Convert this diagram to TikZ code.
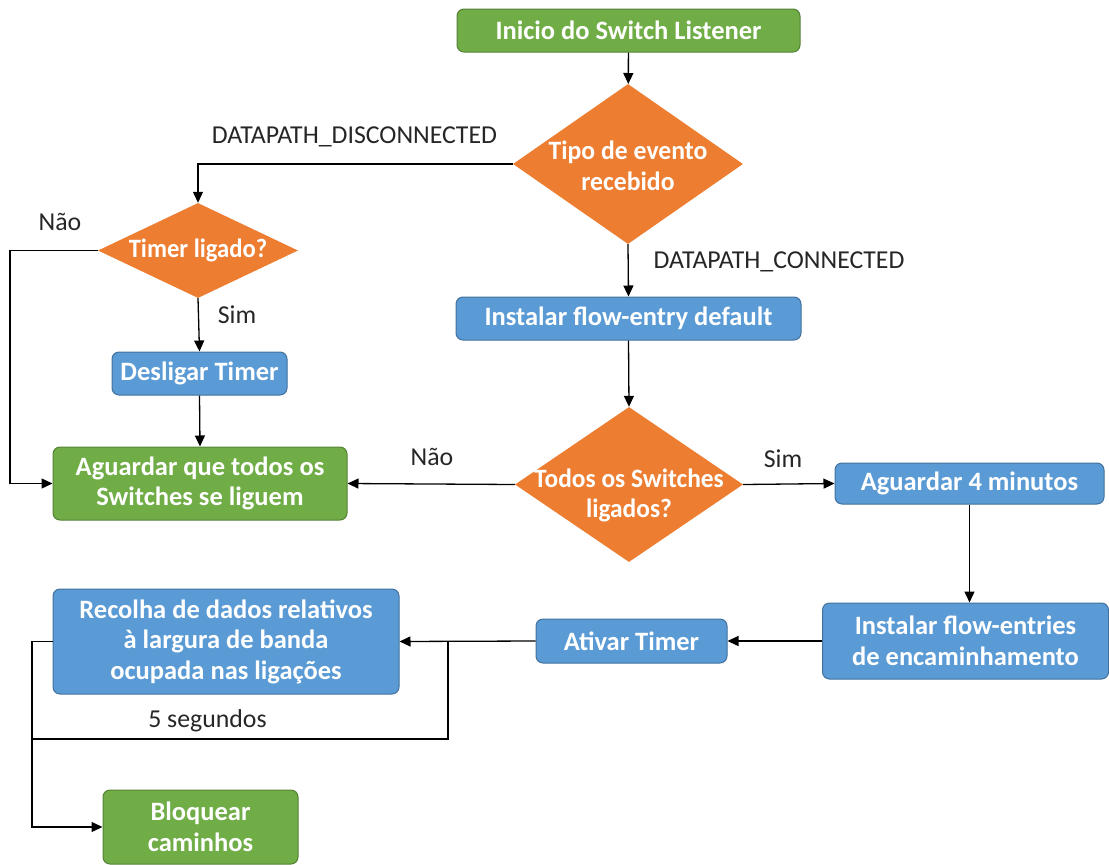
\documentclass[tikz,border=0pt]{standalone}
\usepackage{fontspec}
\setmainfont{Carlito}
\newfontfamily\condA[FakeStretch=0.97]{Carlito}
\newfontfamily\condB[FakeStretch=0.93]{Carlito}
\newfontfamily\condC[FakeStretch=0.96]{Carlito}
\usetikzlibrary{shapes.geometric,arrows.meta}
\definecolor{gfill}{HTML}{70AD47}
\definecolor{gdraw}{HTML}{548235}
\definecolor{bfill}{HTML}{5B9BD5}
\definecolor{bdraw}{HTML}{41719C}
\definecolor{ofill}{HTML}{ED7D31}
\definecolor{txt}{HTML}{262626}
\tikzset{
  box/.style={rectangle, rounded corners=7pt, line width=1pt, text=white,
    font=\fontsize{26.5}{30.5}\selectfont\bfseries, align=center, inner sep=0pt},
  gbox/.style={box, fill=gfill, draw=gdraw},
  bbox/.style={box, fill=bfill, draw=bdraw},
  dec/.style={diamond, fill=ofill, draw=none, inner sep=0pt},
  dectext/.style={text=white, inner sep=0pt,
    font=\condB\fontsize{26.5}{30.5}\selectfont\bfseries, align=center},
  dectextA/.style={dectext, font=\condA\fontsize{26.5}{30.5}\selectfont\bfseries},
  dectextC/.style={dectext, font=\condC\fontsize{26.5}{30.5}\selectfont\bfseries},
  lbl/.style={text=txt, font=\fontsize{25.8}{30}\selectfont, inner sep=0pt},
  conn/.style={line width=1.3pt, draw=black},
  arr/.style={conn, -{Triangle[length=11pt,width=10pt]}},
}
\begin{document}
\begin{tikzpicture}[x=1pt,y=-1pt]
\useasboundingbox (0,0) rectangle (1109,865);
% nodes
\node[gbox, minimum width=343, minimum height=43] (start) at (628.5,30.5) {Inicio do Switch Listener};
\node[dec, minimum width=230, minimum height=160,
  label={[dectextA, yshift=-2pt]center:Tipo de evento\\recebido}] (d1) at (628,164) {};
\node[dec, minimum width=200, minimum height=95,
  label={[dectext]center:Timer ligado?}] (d2) at (198,250.5) {};
\node[bbox, minimum width=175, minimum height=43] (desl) at (199.5,373.5) {Desligar Timer};
\node[gbox, minimum width=294, minimum height=73] (agu) at (200,483.5) {Aguardar que todos os\\Switches se liguem};
\node[bbox, minimum width=345, minimum height=43] (inst) at (628.5,318.5) {Instalar flow-entry default};
\node[dec, minimum width=228, minimum height=155,
  label={[dectextC, yshift=-11pt]center:Todos os Switches\\ligados?}] (d3) at (629,484.5) {};
\node[bbox, minimum width=269, minimum height=41] (agu4) at (969.5,483.5) {Aguardar 4 minutos};
\node[bbox, minimum width=286, minimum height=76] (instf) at (965.5,641) {Instalar flow-entries\\de encaminhamento};
\node[bbox, minimum width=191, minimum height=44] (ativ) at (631.5,641) {Ativar Timer};
\node[bbox, minimum width=346, minimum height=105] (rec) at (226,641.5) {Recolha de dados relativos\\à largura de banda\\ocupada nas ligações};
\node[gbox, minimum width=195, minimum height=74] (blk) at (200.5,827) {Bloquear\\caminhos};
% labels
\node[lbl] (ldis) at (354.5,137) {DATAPATH\_DISCONNECTED};
\node[lbl] (lcon) at (779,262) {DATAPATH\_CONNECTED};
\node[lbl] (lnao1) at (60,222) {Não};
\node[lbl] (lsim1) at (237,315) {Sim};
\node[lbl] (lnao2) at (432,457) {Não};
\node[lbl] (lsim2) at (783,459) {Sim};
\node[lbl] (l5s) at (207.5,721) {5 segundos};
% coordinates
\coordinate (c2L) at (10,483.5);
\coordinate (fbL) at (32,739);
\coordinate (fbR) at (448,641.5);
% connectors
\draw[arr] (start) -- (d1);
\draw[arr] (d1.west) -| (d2.north);
\draw[arr] (d2.south) -- (desl.north);
\draw[arr] (desl.south) -- (agu.north);
\draw[arr] (d2.west) -| (c2L) -- (agu.west);
\draw[arr] (d1.south) -- (inst.north);
\draw[arr] (inst.south) -- (d3.north);
\draw[arr] (d3.west) -- (agu.east);
\draw[arr] (d3.east) -- (agu4.west);
\draw[arr] (agu4.south) -- (instf.north -| agu4.south);
\draw[arr] (instf.west) -- (ativ.east);
\draw[arr] (ativ.west) -- (rec.east);
\draw[conn] (rec.west) -| (fbL) -| (fbR);
\draw[arr] (fbL) |- (blk.west);
\end{tikzpicture}
\end{document}
